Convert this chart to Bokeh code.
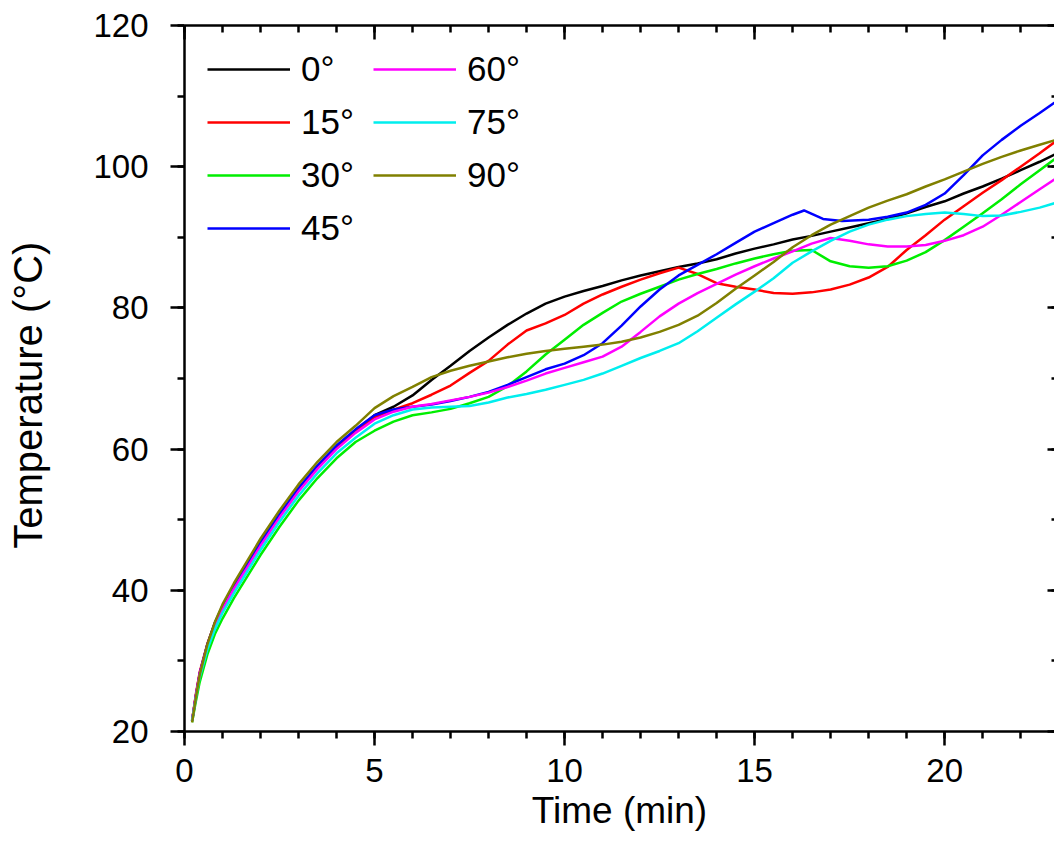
from bokeh.plotting import figure
from bokeh.models import LinearAxis, SingleIntervalTicker, Legend, LegendItem, Range1d
from bokeh.embed import file_html
from bokeh.resources import INLINE

# ---------------- data ----------------
t_common = [0.2, 0.3, 0.4, 0.6, 0.8, 1.0, 1.3, 1.6, 2.0, 2.5, 3.0, 3.5, 4.0, 4.5,
            5.0, 5.5, 6.0, 6.5, 7.0, 7.5, 8.0, 8.5, 9.0, 9.5, 10.0, 10.5, 11.0, 11.5,
            12.0, 12.5, 13.0, 13.5, 14.0, 14.5, 15.0, 15.5, 16.0, 16.5, 17.0, 17.5,
            18.0, 18.5, 19.0, 19.5, 20.0, 20.5, 21.0, 21.5, 22.0, 22.5, 23.0]

t_45 = [0.2, 0.3, 0.4, 0.6, 0.8, 1.0, 1.3, 1.6, 2.0, 2.5, 3.0, 3.5, 4.0, 4.5,
        5.0, 5.5, 6.0, 6.5, 7.0, 7.5, 8.0, 8.5, 9.0, 9.5, 10.0, 10.5, 11.0, 11.5,
        12.0, 12.5, 13.0, 13.5, 14.0, 14.5, 15.0, 15.5, 16.0, 16.3, 16.8, 17.3,
        18.0, 18.5, 19.0, 19.5, 20.0, 20.5, 21.0, 21.5, 22.0, 22.5, 23.0]

temp_0 = [21.5, 25.1, 28.2, 32.2, 35.3, 37.6, 40.5, 43.1, 46.6, 50.6, 54.3, 57.5, 60.3, 62.6,
          64.8, 66.0, 67.6, 69.8, 71.8, 73.9, 75.8, 77.6, 79.2, 80.6, 81.6, 82.4, 83.1, 83.9,
          84.6, 85.2, 85.8, 86.3, 86.9, 87.7, 88.4, 89.0, 89.7, 90.2, 90.8, 91.4,
          92.0, 92.6, 93.4, 94.3, 95.1, 96.2, 97.2, 98.3, 99.5, 100.7, 102.0]

temp_15 = [21.6, 25.3, 28.4, 32.4, 35.4, 37.6, 40.5, 43.1, 46.6, 50.6, 54.3, 57.5, 60.3, 62.5,
           64.5, 65.6, 66.5, 67.7, 69.0, 70.8, 72.5, 74.8, 76.8, 77.8, 79.0, 80.6, 81.9, 83.0,
           84.0, 84.9, 85.7, 84.8, 83.5, 83.0, 82.6, 82.1, 82.0, 82.2, 82.6, 83.3,
           84.3, 85.8, 88.2, 90.3, 92.5, 94.4, 96.3, 98.1, 100.0, 101.9, 103.9]

temp_30 = [21.3, 24.3, 27.0, 30.9, 33.8, 36.0, 38.9, 41.5, 45.0, 49.0, 52.7, 55.9, 58.7, 61.0,
           62.6, 63.9, 64.8, 65.2, 65.7, 66.5, 67.4, 68.9, 71.0, 73.4, 75.5, 77.6, 79.3, 80.9,
           82.0, 83.0, 84.0, 84.8, 85.5, 86.3, 87.0, 87.6, 88.1, 88.2, 86.6, 85.9,
           85.7, 85.9, 86.7, 87.9, 89.6, 91.5, 93.4, 95.4, 97.5, 99.5, 101.5]

temp_45 = [21.5, 25.0, 28.2, 32.3, 35.4, 37.8, 40.7, 43.3, 46.8, 50.8, 54.5, 57.7, 60.5, 62.8,
           64.8, 65.6, 66.0, 66.3, 66.8, 67.4, 68.1, 69.1, 70.2, 71.3, 72.1, 73.3, 75.0, 77.5,
           80.2, 82.6, 84.6, 86.1, 87.6, 89.2, 90.8, 92.0, 93.2, 93.8, 92.6, 92.3,
           92.5, 92.9, 93.5, 94.6, 96.2, 98.8, 101.6, 103.8, 105.8, 107.6, 109.5]

temp_60 = [21.5, 25.1, 28.2, 32.1, 35.1, 37.3, 40.2, 42.8, 46.3, 50.3, 54.0, 57.2, 60.0, 62.3,
           64.2, 65.3, 66.0, 66.4, 66.9, 67.4, 68.0, 68.8, 69.7, 70.7, 71.5, 72.3, 73.1, 74.5,
           76.6, 78.8, 80.6, 82.1, 83.4, 84.7, 85.9, 87.0, 88.0, 89.1, 89.9, 89.5,
           89.0, 88.7, 88.7, 88.9, 89.5, 90.3, 91.5, 93.2, 95.0, 96.8, 98.6]

temp_75 = [21.5, 24.8, 27.7, 31.6, 34.5, 36.8, 39.6, 42.2, 45.7, 49.7, 53.4, 56.6, 59.4, 61.6,
           63.6, 64.8, 65.6, 65.9, 66.0, 66.1, 66.6, 67.3, 67.8, 68.4, 69.1, 69.8, 70.7, 71.8,
           72.9, 73.9, 75.0, 76.7, 78.6, 80.5, 82.3, 84.2, 86.4, 88.0, 89.5, 90.8,
           91.8, 92.5, 93.0, 93.3, 93.5, 93.3, 93.0, 93.1, 93.6, 94.2, 95.0]

temp_90 = [21.3, 24.8, 28.0, 32.3, 35.5, 38.0, 41.0, 43.7, 47.3, 51.3, 55.0, 58.2, 61.0, 63.3,
           65.8, 67.5, 68.8, 70.2, 71.1, 71.8, 72.4, 73.0, 73.5, 73.9, 74.2, 74.5, 74.8, 75.2,
           75.8, 76.6, 77.6, 78.9, 80.7, 82.7, 84.6, 86.5, 88.6, 90.3, 91.8, 93.0,
           94.2, 95.2, 96.1, 97.2, 98.2, 99.3, 100.4, 101.4, 102.3, 103.1, 103.9]

labels = ["0°", "15°", "30°", "45°", "60°", "75°", "90°"]
colors = ["#000000", "#ff0000", "#00ee00", "#0000ff", "#ff00ff", "#00eeee", "#808000"]

x_label = "Time (min)"
y_label = "Temperature (°C)\u00a0\u00a0\u00a0"

FONT = "Liberation Sans"

# ---------------- figure ----------------
p = figure(width=1054, height=856,
           x_range=Range1d(0, 22.89), y_range=Range1d(20, 120),
           output_backend="svg", toolbar_location=None,
           min_border_left=184, min_border_top=25, min_border_bottom=125, min_border_right=0)
p.outline_line_color = None
p.grid.visible = False
p.background_fill_color = "white"
p.border_fill_color = "white"

series = [
    (t_common, temp_0), (t_common, temp_15), (t_common, temp_30), (t_45, temp_45),
    (t_common, temp_60), (t_common, temp_75), (t_common, temp_90),
]
renderers = []
for (tt, yy), c in zip(series, colors):
    r = p.line(tt, yy, line_color=c, line_width=2.5)
    renderers.append(r)

# bottom axis
xa = p.below[0]
xa.ticker = SingleIntervalTicker(interval=5, num_minor_ticks=5)
xa.axis_label = x_label
xa.axis_label_text_font = FONT
xa.axis_label_text_font_size = "37px"
xa.axis_label_text_font_style = "normal"
xa.axis_label_text_color = "black"
xa.axis_label_standoff = 5
xa.major_label_text_font = FONT
xa.major_label_text_font_size = "33px"
xa.major_label_text_color = "black"
xa.major_label_standoff = 13
xa.major_tick_out = 14
xa.major_tick_in = 0
xa.minor_tick_out = 7
xa.minor_tick_in = 0
xa.axis_line_width = 2.5
xa.major_tick_line_width = 2.5
xa.minor_tick_line_width = 2.5
xa.axis_line_color = "black"
xa.major_tick_line_color = "black"
xa.minor_tick_line_color = "black"

# left axis
ya = p.left[0]
ya.ticker = SingleIntervalTicker(interval=20, num_minor_ticks=2)
ya.axis_label = y_label
ya.axis_label_text_font = FONT
ya.axis_label_text_font_size = "40px"
ya.axis_label_text_font_style = "normal"
ya.axis_label_text_color = "black"
ya.axis_label_standoff = 40
ya.major_label_text_font = FONT
ya.major_label_text_font_size = "33px"
ya.major_label_text_color = "black"
ya.major_label_standoff = 22
ya.major_tick_out = 14
ya.major_tick_in = 0
ya.minor_tick_out = 7
ya.minor_tick_in = 0
ya.axis_line_width = 2.5
ya.major_tick_line_width = 2.5
ya.minor_tick_line_width = 2.5
ya.axis_line_color = "black"
ya.major_tick_line_color = "black"
ya.minor_tick_line_color = "black"

# top axis (inward ticks, no labels)
top = LinearAxis(ticker=SingleIntervalTicker(interval=5, num_minor_ticks=5),
                 major_label_text_font_size="1px", major_label_text_color=None,
                 major_label_standoff=0,
                 major_tick_in=14, major_tick_out=0, minor_tick_in=7, minor_tick_out=0,
                 axis_line_width=2.5, major_tick_line_width=2.5, minor_tick_line_width=2.5,
                 axis_line_color="black", major_tick_line_color="black",
                 minor_tick_line_color="black")
p.add_layout(top, "above")

# right axis (inward ticks only, frame edge is cut off)
right = LinearAxis(ticker=SingleIntervalTicker(interval=20, num_minor_ticks=2),
                   major_label_text_font_size="1px", major_label_text_color=None,
                   major_label_standoff=0,
                   major_tick_in=7, major_tick_out=0, minor_tick_in=3, minor_tick_out=0,
                   axis_line_color=None, major_tick_line_width=2.5, minor_tick_line_width=2.5,
                   major_tick_line_color="black", minor_tick_line_color="black")
p.add_layout(right, "right")

# legends (two columns)
def make_legend(idx, loc):
    leg = Legend(items=[LegendItem(label=labels[i], renderers=[renderers[i]]) for i in idx],
                 location=loc, orientation="vertical",
                 label_text_font=FONT, label_text_font_size="35px",
                 label_text_color="black",
                 glyph_width=83, glyph_height=40, label_height=40, spacing=13,
                 label_standoff=11, padding=0, margin=0,
                 border_line_color=None, background_fill_alpha=0)
    return leg

p.add_layout(make_legend([0, 1, 2, 3], (23, 482.7)))
p.add_layout(make_legend([4, 5, 6], (189, 535.7)))

open("out.html", "w").write(file_html(p, INLINE))
